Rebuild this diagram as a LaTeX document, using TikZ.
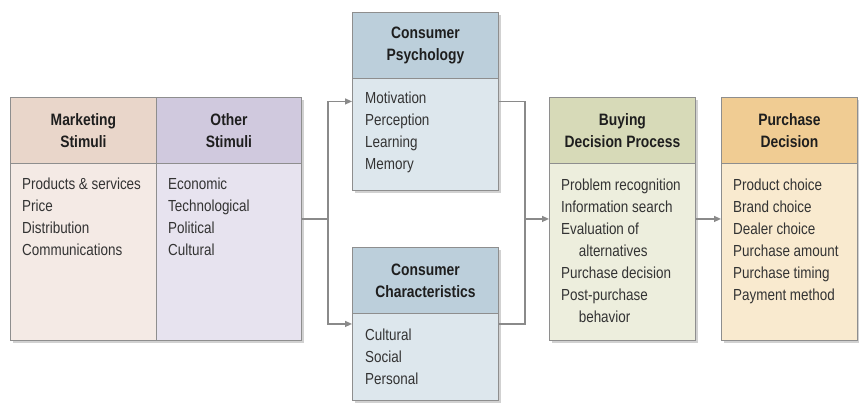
\documentclass[tikz,border=0pt]{standalone}
\usepackage{fontspec}
\setmainfont{Liberation Sans}[FakeStretch=0.84]
\usepackage{xcolor}
\usetikzlibrary{shadows,arrows.meta}

\definecolor{boxline}{HTML}{8E8E8E}
\definecolor{linkgray}{HTML}{8A8A8A}
\definecolor{shadowgray}{HTML}{BDBDBD}
\definecolor{headtext}{HTML}{1E1E1E}
\definecolor{bodytext}{HTML}{333333}
\definecolor{mkthd}{HTML}{E9D6CA}
\definecolor{mktbg}{HTML}{F4EAE5}
\definecolor{othhd}{HTML}{D0C9DE}
\definecolor{othbg}{HTML}{E7E3EF}
\definecolor{cphd}{HTML}{BCCFDB}
\definecolor{cpbg}{HTML}{DDE7ED}
\definecolor{bdphd}{HTML}{D7DAB8}
\definecolor{bdpbg}{HTML}{EDEEDD}
\definecolor{pdhd}{HTML}{F0CC93}
\definecolor{pdbg}{HTML}{F9EACF}

\tikzset{
  box/.style={draw=boxline, line width=0.9pt, anchor=north west, inner sep=0pt,
    drop shadow={shadow xshift=3pt, shadow yshift=-3pt, fill=shadowgray, opacity=0.7}},
  hdr/.style={draw=boxline, line width=0.9pt, anchor=north west, inner sep=0pt,
    minimum height=66pt, align=center, text=headtext,
    font=\fontsize{16.5}{22}\selectfont\bfseries},
  item/.style={anchor=north west, inner sep=0pt, align=left, text=bodytext,
    font=\fontsize{16}{22}\selectfont},
  link/.style={draw=linkgray, line width=1.3pt},
  tip/.style={-{Triangle[length=7pt,width=6pt]}}
}

\begin{document}
\begin{tikzpicture}[x=1pt,y=-1pt]
\useasboundingbox (0,0) rectangle (859,405);

%% stimuli
\node[box, fill=mktbg, minimum width=146pt, minimum height=243pt] (mkt) at (10,97) {};
\node[box, fill=othbg, minimum width=145pt, minimum height=243pt] (oth) at (156,97) {};
\node[hdr, fill=mkthd, minimum width=146pt] (mkthd) at (mkt.north west) {Marketing\\Stimuli};
\node[hdr, fill=othhd, minimum width=145pt] (othhd) at (oth.north west) {Other\\Stimuli};
\node[item] (mktlist) at (22,178) {Products \& services\\Price\\Distribution\\Communications};
\node[item] (othlist) at (168,178) {Economic\\Technological\\Political\\Cultural};

%% consumer psychology
\node[box, fill=cpbg, minimum width=146pt, minimum height=178pt] (cp) at (352,12) {};
\node[hdr, fill=cphd, minimum width=146pt] (cphd) at (cp.north west) {Consumer\\Psychology};
\node[item] (cplist) at (365,92) {Motivation\\Perception\\Learning\\Memory};

%% consumer characteristics
\node[box, fill=cpbg, minimum width=146pt, minimum height=153pt] (cc) at (352,247) {};
\node[hdr, fill=cphd, minimum width=146pt] (cchd) at (cc.north west) {Consumer\\Characteristics};
\node[item] (cclist) at (365,329) {Cultural\\Social\\Personal};

%% buying decision process
\node[box, fill=bdpbg, minimum width=146pt, minimum height=243pt] (bdp) at (549,97) {};
\node[hdr, fill=bdphd, minimum width=146pt] (bdphd) at (bdp.north west) {Buying\\Decision Process};
\node[item] (bdplist) at (561,179) {Problem recognition\\Information search\\Evaluation of\\
  \hspace*{1.1em}alternatives\\Purchase decision\\Post-purchase\\\hspace*{1.1em}behavior};

%% purchase decision
\node[box, fill=pdbg, minimum width=136pt, minimum height=243pt] (pd) at (721,97) {};
\node[hdr, fill=pdhd, minimum width=136pt] (pdhd) at (pd.north west) {Purchase\\Decision};
\node[item] (pdlist) at (733,179) {Product choice\\Brand choice\\Dealer choice\\Purchase amount\\
  Purchase timing\\Payment method};

%% connectors
\draw[link,tip] (oth.east) -- ++(26,0) |- (cp.west);
\draw[link,tip] (oth.east) -- ++(26,0) |- (cc.west);
\draw[link] (cp.east) -- ++(26,0) |- (cc.east);
\draw[link,tip] ([xshift=26pt]cp.east |- bdp.west) -- (bdp.west);
\draw[link,tip] (bdp.east) -- (pd.west);
\end{tikzpicture}
\end{document}
